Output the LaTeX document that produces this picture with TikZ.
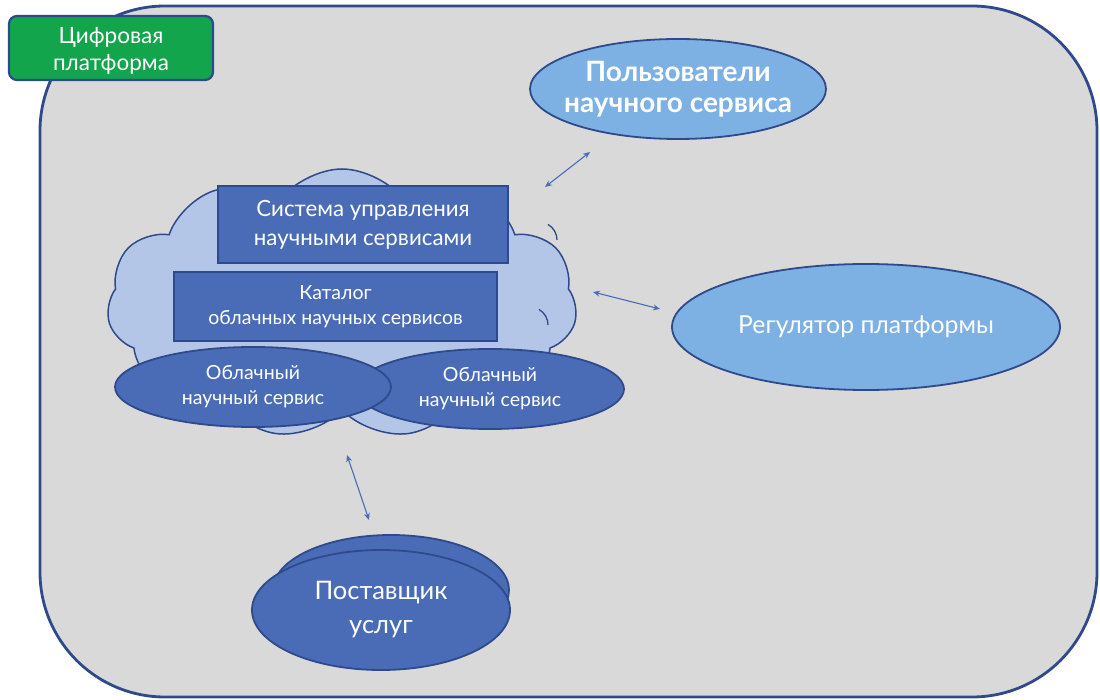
\documentclass[tikz,border=0pt]{standalone}
\usepackage{fontspec}
\setmainfont{Lato}
\usetikzlibrary{shapes.geometric,shapes.symbols,arrows.meta}
\definecolor{bord}{HTML}{2F4A8A}
\definecolor{platf}{HTML}{D9D9D9}
\definecolor{greenl}{HTML}{12A54C}
\definecolor{ulight}{HTML}{7DB0E3}
\definecolor{cloudc}{HTML}{B4C6E7}
\definecolor{dblue}{HTML}{4A6CB7}
\definecolor{arr}{HTML}{4A6CB7}
\tikzset{
  boxs/.style={draw=bord,line width=1.8pt,fill=dblue,text=white,align=center,inner sep=0pt},
  ell/.style={ellipse,draw=bord,line width=1.8pt,text=white,align=center,inner sep=0pt},
  conn/.style={draw=arr,line width=1.1pt,{Stealth[length=7pt,width=6pt]}-{Stealth[length=7pt,width=6pt]}},
}
\begin{document}
\begin{tikzpicture}[x=1pt,y=-1pt]
\useasboundingbox (0,0) rectangle (1100,700);
% platform
\draw[draw=bord,line width=2.8pt,fill=platf,rounded corners=125pt] (40,6) rectangle (1097,697);
% label
\node[draw=bord,line width=2.2pt,fill=greenl,rounded corners=8pt,minimum width=204pt,minimum height=64pt,inner sep=0pt,
  label={[text=white,align=center,inner sep=0pt,yshift=-3pt,font=\fontsize{22.5}{26.5}\selectfont]center:{Цифровая\\платформа}}] (lbl) at (111,48) {};
% cloud
\node[cloud,cloud puffs=11,cloud puff arc=110,aspect=1.75,draw=bord,line width=1.5pt,fill=cloudc,minimum width=470pt,minimum height=270pt,inner sep=0pt] (cloud) at (342,304) {};
\draw[bord,line width=1.3pt] (557,240) arc (0:-60:18);
\draw[bord,line width=1.3pt] (548,325) arc (0:-60:18);
% rects
\node[boxs,minimum width=290pt,minimum height=77pt,font=\fontsize{22.3}{29}\selectfont] (sys) at (363,224.5) {Система управления\\научными сервисами};
\node[boxs,minimum width=323pt,minimum height=69pt,font=\fontsize{19.5}{25}\selectfont] (cat) at (335.5,306.5) {Каталог\\облачных научных сервисов};
% service ellipses
\node[ell,fill=dblue,minimum width=268pt,minimum height=80pt,font=\fontsize{19.5}{25}\selectfont] (s2) at (490,389) {Облачный\\научный сервис};
\node[ell,fill=dblue,minimum width=276pt,minimum height=80pt,font=\fontsize{19.5}{25}\selectfont] (s1) at (253,387) {Облачный\\научный сервис};
% users
\node[ell,fill=ulight,minimum width=296pt,minimum height=100pt,
  label={[text=white,align=center,inner sep=0pt,font=\bfseries\fontsize{28}{31}\selectfont]center:{Пользователи\\научного сервиса}}] (users) at (678,89) {};
% regulator
\node[ell,fill=ulight,minimum width=388pt,minimum height=126pt,font=\fontsize{24.8}{28}\selectfont] (reg) at (866,327) {Регулятор платформы};
% supplier
\node[ell,fill=dblue,minimum width=236pt,minimum height=110pt] (supb) at (391,590) {};
\node[ell,fill=dblue,minimum width=258pt,minimum height=120pt,font=\fontsize{25.5}{34}\selectfont] (sup) at (381,610) {Поставщик\\услуг};
% connectors
\coordinate (u1) at (545,187); \coordinate (u2) at (590,152);
\coordinate (r1) at (593,292); \coordinate (r2) at (660,309);
\coordinate (p1) at (347,455); \coordinate (p2) at (369,520);
\draw[conn] (u1) -- (u2);
\draw[conn] (r1) -- (r2);
\draw[conn] (p1) -- (p2);
\end{tikzpicture}
\end{document}
